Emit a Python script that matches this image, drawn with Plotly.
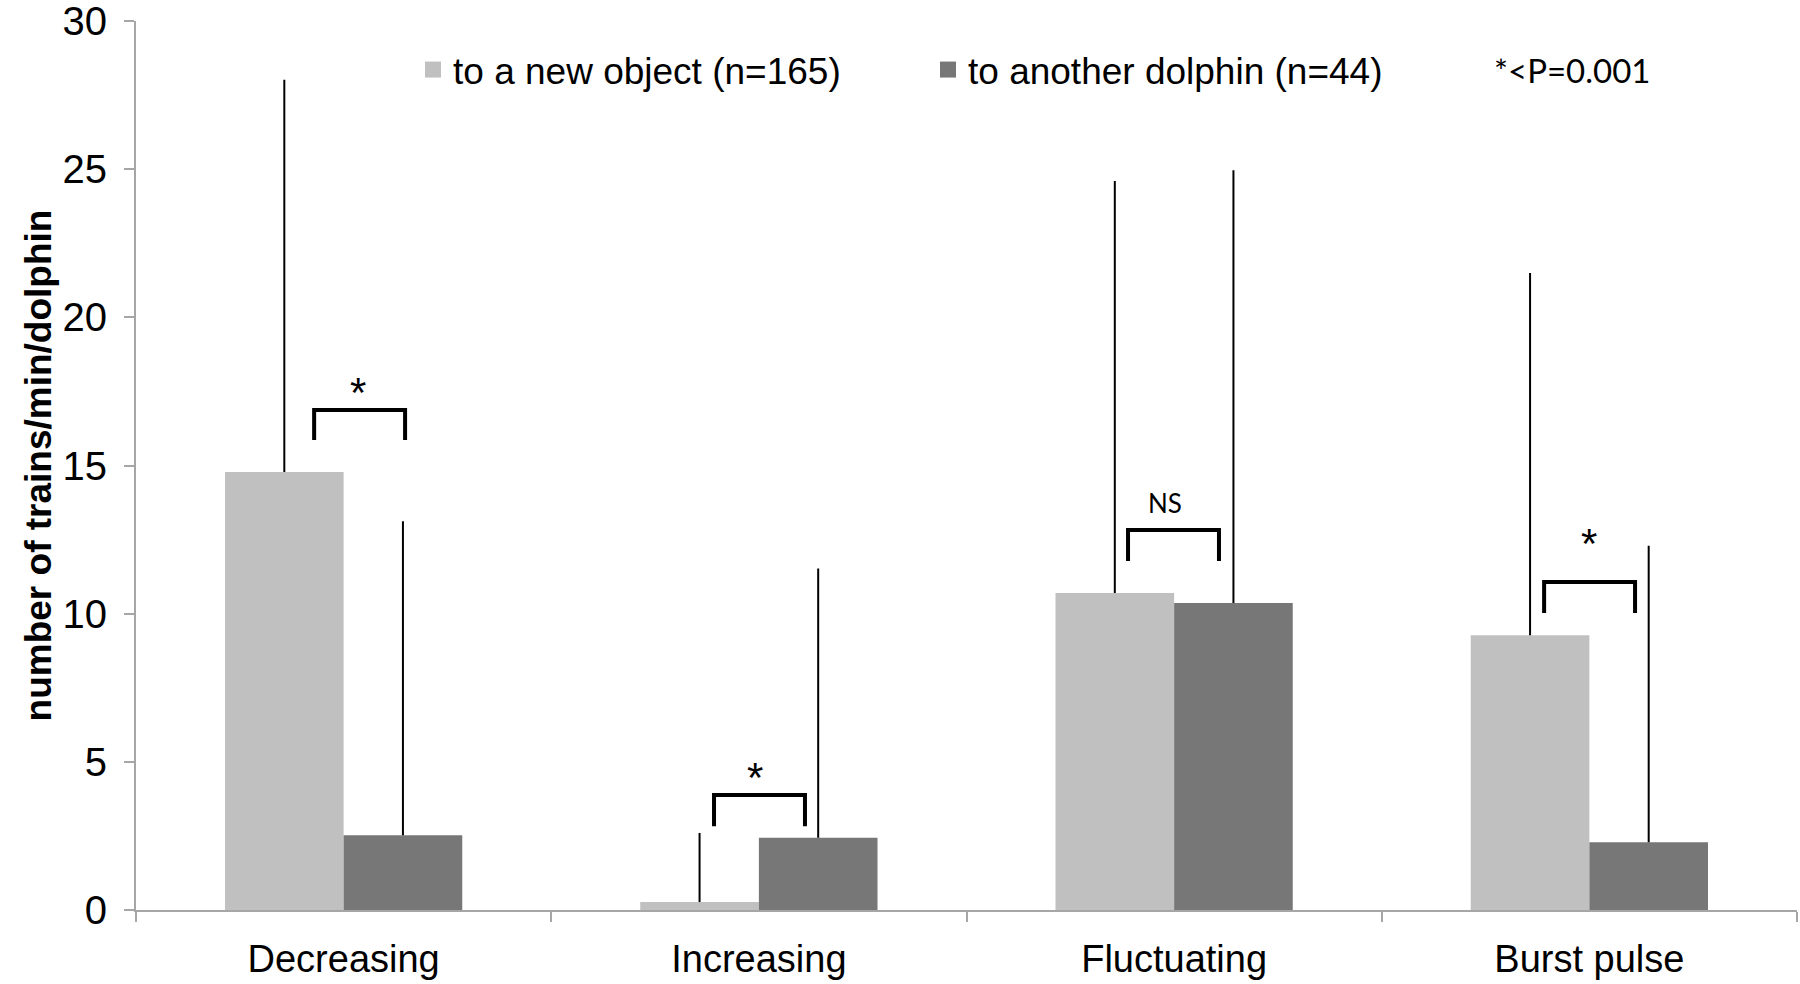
import plotly.graph_objects as go

categories = ["Decreasing", "Increasing", "Fluctuating", "Burst pulse"]
series_names = ["to a new object (n=165)", "to another dolphin (n=44)"]
new_object = [14.78, 0.27, 10.70, 9.27]
new_object_err = [13.24, 2.33, 13.90, 12.23]
another_dolphin = [2.52, 2.44, 10.36, 2.29]
another_dolphin_err = [10.60, 9.08, 14.60, 10.00]

# significance brackets: left x offset, right x offset (category units), top y, leg bottom y
bracket_left = [-0.071, -0.108, -0.111, -0.109]
bracket_right = [0.148, 0.111, 0.108, 0.110]
bracket_top = [16.87, 3.88, 12.82, 11.07]
bracket_bottom = [15.86, 2.83, 11.78, 10.02]
sig_labels = ["*", "*", "NS", "*"]
sig_x_offset = [0.035, -0.01, -0.022, 0.0]
sig_y = [17.6, 4.62, 13.73, 12.49]
p_note = "*<P=0.001"

x_idx = list(range(len(categories)))
LIGHT = "#c0c0c0"
DARK = "#777777"
AXIS = "#a6a6a6"
FONT = "Liberation Sans, Arial, sans-serif"
NOTE_FONT = "Lato, Carlito, sans-serif"

fig = go.Figure()
fig.add_trace(go.Bar(
    x=x_idx, y=new_object, name=series_names[0], marker_color=LIGHT,
    marker_line_width=0, showlegend=False,
    error_y=dict(type="data", symmetric=False, array=new_object_err,
                 arrayminus=[0] * 4, width=0, thickness=2, color="black"),
))
fig.add_trace(go.Bar(
    x=x_idx, y=another_dolphin, name=series_names[1], marker_color=DARK,
    marker_line_width=0, showlegend=False,
    error_y=dict(type="data", symmetric=False, array=another_dolphin_err,
                 arrayminus=[0] * 4, width=0, thickness=2, color="black"),
))
# legend entries with larger square swatches
for name, col in zip(series_names, [LIGHT, DARK]):
    fig.add_trace(go.Scatter(
        x=[None], y=[None], mode="markers", name=name,
        marker=dict(symbol="square", size=18, color=col),
    ))

for i in range(len(categories)):
    xl = x_idx[i] + bracket_left[i]
    xr = x_idx[i] + bracket_right[i]
    fig.add_trace(go.Scatter(
        x=[xl, xl, xr, xr],
        y=[bracket_bottom[i], bracket_top[i], bracket_top[i], bracket_bottom[i]],
        mode="lines", line=dict(color="black", width=4),
        showlegend=False, hoverinfo="skip",
    ))
    is_star = sig_labels[i] == "*"
    fig.add_annotation(
        x=x_idx[i] + sig_x_offset[i], y=sig_y[i], text=sig_labels[i],
        showarrow=False, xanchor="center", yanchor="middle",
        yshift=-4 if is_star else 0,
        font=dict(family=FONT if is_star else NOTE_FONT,
                  size=42 if is_star else 26, color="black"),
    )

fig.add_annotation(
    xref="paper", yref="paper", x=(1572 - 136) / 1661, y=(910 - 70) / 889,
    text=p_note, showarrow=False, xanchor="center", yanchor="middle",
    font=dict(family=NOTE_FONT, size=33, color="black"),
)

fig.update_layout(
    width=1800, height=984,
    margin=dict(l=136, r=3, t=21, b=74, autoexpand=False),
    paper_bgcolor="white", plot_bgcolor="white",
    barmode="group", bargap=0.4286, bargroupgap=0,
    font=dict(family=FONT, size=37, color="black"),
    showlegend=True,
    legend=dict(
        orientation="h", x=(413 - 136) / 1661, xanchor="left",
        y=(910 - 70) / 889, yanchor="middle",
        font=dict(family=FONT, size=37, color="black"),
        entrywidth=470, entrywidthmode="pixels",
        bgcolor="rgba(0,0,0,0)", itemclick=False,
    ),
    xaxis=dict(
        range=[-0.5, 3.5], tickmode="array", tickvals=x_idx, ticktext=categories,
        ticks="", showgrid=False, zeroline=False,
        showline=True, linecolor=AXIS, linewidth=2,
        minor=dict(tickmode="array", tickvals=[-0.5, 0.5, 1.5, 2.5, 3.5],
                   ticks="outside", ticklen=10, tickcolor=AXIS, tickwidth=2, showgrid=False),
        tickfont=dict(family=FONT, size=38, color="black"),
        ticklabelstandoff=14, ticklabeloverflow="allow",
    ),
    yaxis=dict(
        range=[0, 30], tickmode="array", tickvals=[0, 5, 10, 15, 20, 25, 30],
        ticks="outside", ticklen=10, tickcolor=AXIS, tickwidth=2,
        showgrid=False, zeroline=False,
        showline=True, linecolor=AXIS, linewidth=2,
        tickfont=dict(family=FONT, size=40, color="black"),
        ticklabelstandoff=9, ticklabeloverflow="allow",
        title=dict(text="<b>number of trains/min/dolphin</b>",
                   font=dict(family=FONT, size=37, color="black"), standoff=0),
    ),
)

fig.write_html("out.html")
